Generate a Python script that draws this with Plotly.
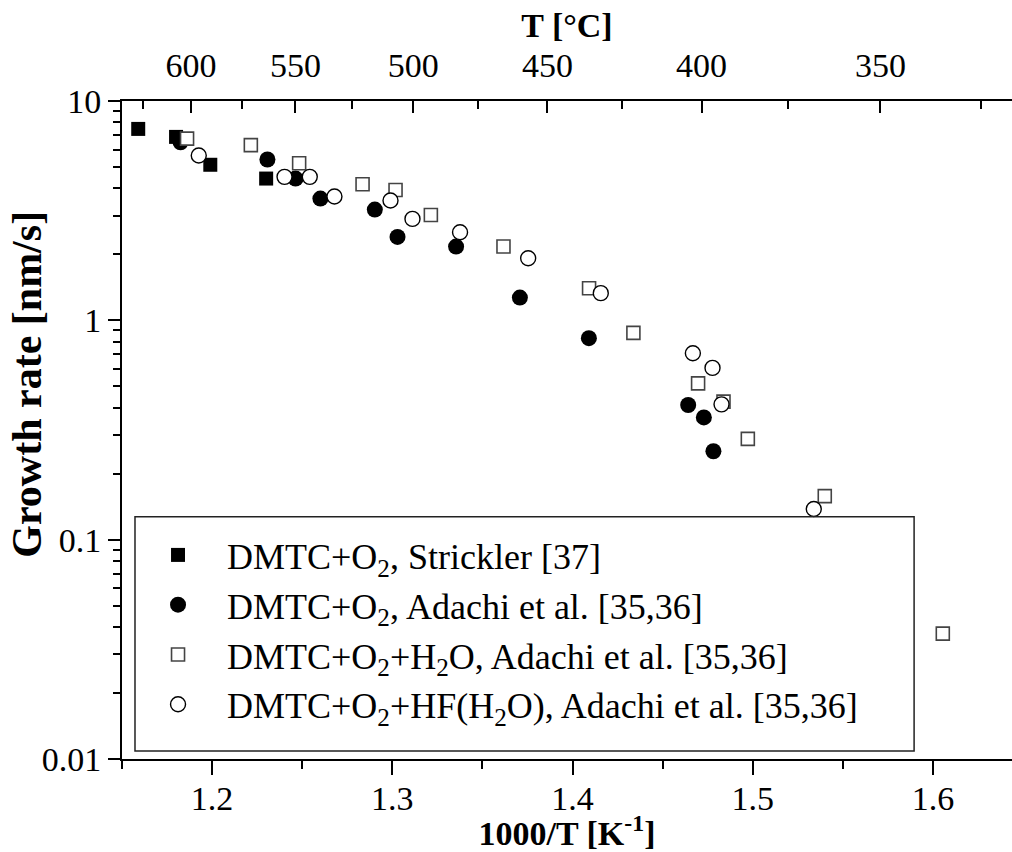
import plotly.graph_objects as go

# ---- data ----
strickler_x = [1.159, 1.180, 1.199, 1.230]
strickler_y = [7.46, 6.86, 5.12, 4.43]

adachi_o2_x = [1.1825, 1.2307, 1.2463, 1.2601, 1.2903, 1.3029, 1.3354, 1.3708, 1.4091, 1.4642, 1.4729, 1.4782]
adachi_o2_y = [6.48, 5.41, 4.43, 3.59, 3.20, 2.40, 2.17, 1.27, 0.829, 0.411, 0.361, 0.253]

h2o_x = [1.1861, 1.2215, 1.2483, 1.2835, 1.3018, 1.3214, 1.3617, 1.4092, 1.4338, 1.4697, 1.4838, 1.4973, 1.540, 1.6055]
h2o_y = [6.74, 6.29, 5.20, 4.17, 3.93, 3.02, 2.17, 1.40, 0.877, 0.516, 0.426, 0.288, 0.158, 0.0373]

hf_x = [1.1926, 1.2402, 1.2542, 1.2679, 1.2990, 1.3112, 1.3376, 1.3754, 1.4157, 1.4668, 1.4777, 1.4827, 1.5339]
hf_y = [5.64, 4.51, 4.51, 3.67, 3.52, 2.90, 2.52, 1.92, 1.33, 0.708, 0.607, 0.414, 0.138]

names = [
    "DMTC+O<sub>2</sub>, Strickler [37]",
    "DMTC+O<sub>2</sub>, Adachi et al. [35,36]",
    "DMTC+O<sub>2</sub>+H<sub>2</sub>O, Adachi et al. [35,36]",
    "DMTC+O<sub>2</sub>+HF(H<sub>2</sub>O), Adachi et al. [35,36]",
]

x_ticks = [1.2, 1.3, 1.4, 1.5, 1.6]
x_tick_labels = ["1.2", "1.3", "1.4", "1.5", "1.6"]
y_ticks = [0.01, 0.1, 1, 10]
y_tick_labels = ["0.01", "0.1", "1", "10"]
temps_major = [600, 550, 500, 450, 400, 350]
temps_minor = [625, 575, 525, 475, 425, 375, 325]

FONT = "Liberation Serif"

top_major = [1000.0 / (t + 273.15) for t in temps_major]
top_minor = [1000.0 / (t + 273.15) for t in temps_minor]
y_minor = [m * 10.0 ** k for k in (-2, -1, 0) for m in range(2, 10)]

fig = go.Figure()
fig.add_trace(go.Scatter(x=strickler_x, y=strickler_y, mode="markers", name=names[0],
                         marker=dict(symbol="square", size=14, color="black", line=dict(width=0))))
fig.add_trace(go.Scatter(x=adachi_o2_x, y=adachi_o2_y, mode="markers", name=names[1],
                         marker=dict(symbol="circle", size=16, color="black", line=dict(width=0))))
fig.add_trace(go.Scatter(x=h2o_x, y=h2o_y, mode="markers", name=names[2],
                         marker=dict(symbol="square", size=13, color="white",
                                     line=dict(width=1.6, color="#444"))))
fig.add_trace(go.Scatter(x=hf_x, y=hf_y, mode="markers", name=names[3],
                         marker=dict(symbol="circle", size=15, color="white",
                                     line=dict(width=1.4, color="black"))))
# helper trace so the top (temperature) axis is drawn
fig.add_trace(go.Scatter(x=top_major, y=[1] * len(top_major), xaxis="x2", mode="markers",
                         marker=dict(opacity=0, size=1), showlegend=False, hoverinfo="skip"))

axis_common = dict(showline=True, linecolor="black", linewidth=2, showgrid=False, zeroline=False,
                   tickcolor="black", tickwidth=2, tickfont=dict(family=FONT, size=34, color="black"))

fig.update_layout(
    width=1012, height=852,
    margin=dict(l=122, r=0, t=101, b=93),
    paper_bgcolor="white", plot_bgcolor="white",
    font=dict(family=FONT, color="black"),
    xaxis=dict(range=[1.15, 1.6439], tickmode="array", tickvals=x_ticks, ticktext=x_tick_labels,
               ticks="outside", ticklen=14, ticklabelstandoff=-6,
               minor=dict(ticks="outside", ticklen=8, tickwidth=2, tickcolor="black",
                          tickmode="linear", tick0=1.15, dtick=0.05, showgrid=False),
               title=dict(text="1000/T [K<sup>-1</sup>]", font=dict(family=FONT, size=34, weight="bold"),
                          standoff=6),
               **axis_common),
    xaxis2=dict(overlaying="x", side="top", anchor="y", range=[1.0993, 1.6924],
                tickmode="array", tickvals=top_major, ticktext=[str(t) for t in temps_major],
                ticks="inside", ticklen=12, ticklabelstandoff=8,
                minor=dict(ticks="inside", ticklen=8, tickwidth=2, tickcolor="black",
                           tickmode="array", tickvals=top_minor, showgrid=False),
                title=dict(text="T [°C]", font=dict(family=FONT, size=34, weight="bold"), standoff=0),
                **axis_common),
    yaxis=dict(type="log", range=[-2, 1], tickmode="array", tickvals=y_ticks, ticktext=y_tick_labels,
               ticks="outside", ticklen=12,
               minor=dict(ticks="outside", ticklen=7, tickwidth=1.5, tickcolor="black",
                          tickmode="array", tickvals=y_minor, showgrid=False),
               **axis_common),
    legend=dict(x=0.0079, y=0.3556, xanchor="left", yanchor="top", bgcolor="rgba(0,0,0,0)",
                borderwidth=0, font=dict(family=FONT, size=36, color="black"), itemsizing="trace",
                itemwidth=88),
    showlegend=True,
    shapes=[dict(type="rect", xref="paper", yref="paper", x0=0.0146, x1=0.89, y0=0.012, y1=0.368,
                 line=dict(color="#222", width=1.5), fillcolor="rgba(0,0,0,0)", layer="above")],
    annotations=[dict(text="<b>Growth rate [nm/s]</b>", textangle=-90, xref="paper", yref="paper",
                      x=-0.107, y=0.57, xanchor="center", yanchor="middle", showarrow=False,
                      font=dict(family=FONT, size=42, color="black"))],
)

fig.write_html("out.html")
